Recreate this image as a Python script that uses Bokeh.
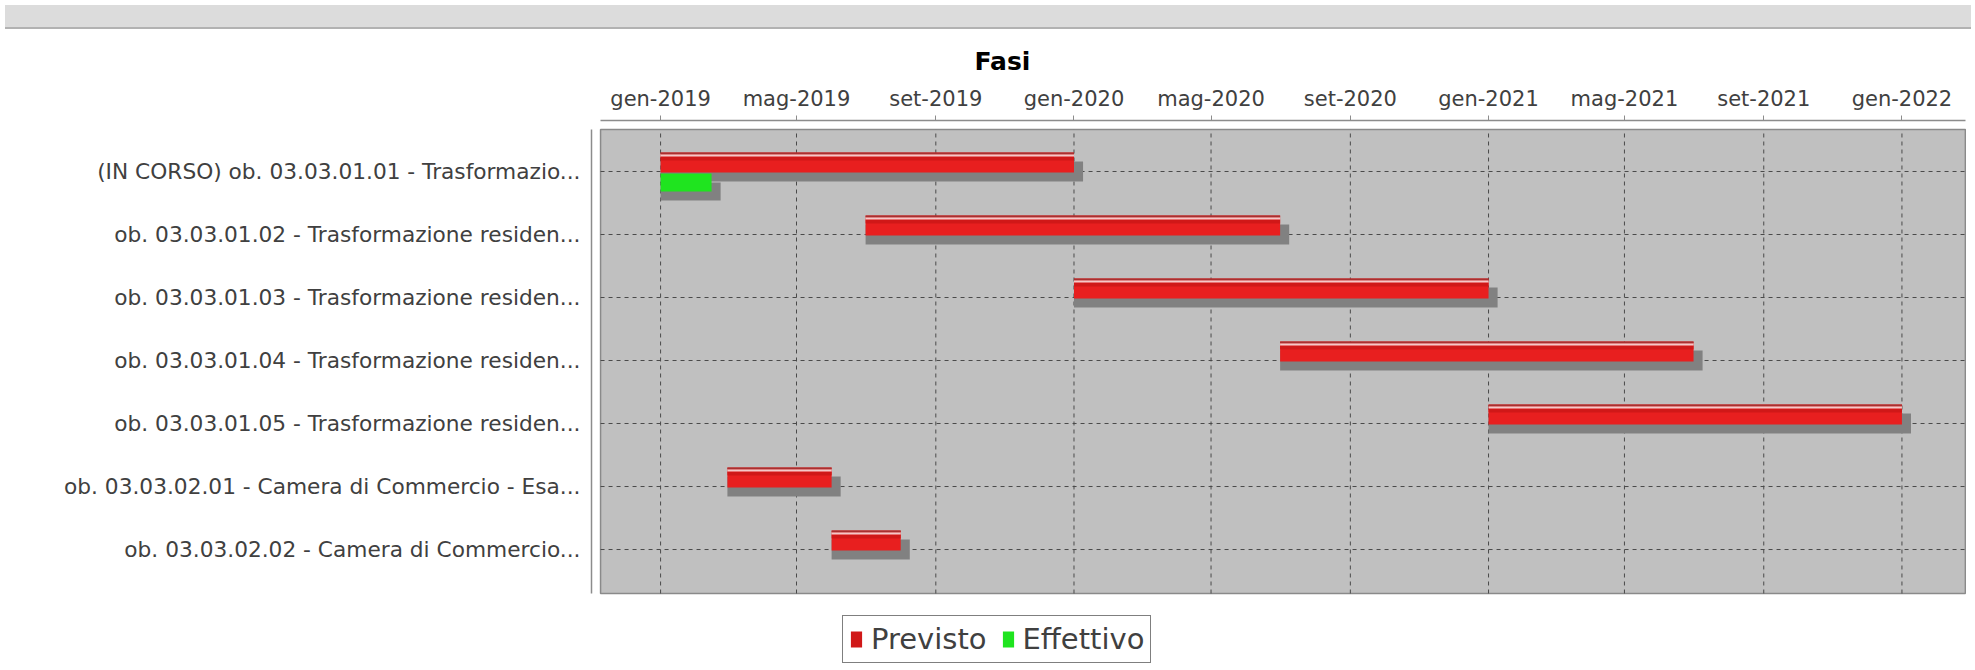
from datetime import datetime, timedelta
import pandas as pd
from bokeh.plotting import figure
from bokeh.models import Range1d, FixedTicker, Legend, LegendItem, Div, ColumnDataSource
from bokeh.layouts import column
from bokeh.embed import file_html
from bokeh.resources import INLINE

# ---------------- data ----------------
categories = [
    "(IN CORSO) ob. 03.03.01.01 - Trasformazio...",
    "ob. 03.03.01.02 - Trasformazione residen...",
    "ob. 03.03.01.03 - Trasformazione residen...",
    "ob. 03.03.01.04 - Trasformazione residen...",
    "ob. 03.03.01.05 - Trasformazione residen...",
    "ob. 03.03.02.01 - Camera di Commercio - Esa...",
    "ob. 03.03.02.02 - Camera di Commercio...",
]
previsto_start = ["2019-01-01", "2019-07-01", "2020-01-01", "2020-07-01",
                  "2021-01-01", "2019-03-01", "2019-06-01"]
previsto_end = ["2020-01-01", "2020-07-01", "2021-01-01", "2021-07-01",
                "2022-01-01", "2019-06-01", "2019-08-01"]
effettivo_task = ["(IN CORSO) ob. 03.03.01.01 - Trasformazio..."]
effettivo_start = ["2019-01-01"]
effettivo_end = ["2019-02-15"]

tick_dates = ["2019-01-01", "2019-05-01", "2019-09-01", "2020-01-01", "2020-05-01",
              "2020-09-01", "2021-01-01", "2021-05-01", "2021-09-01", "2022-01-01"]
tick_labels = ["gen-2019", "mag-2019", "set-2019", "gen-2020", "mag-2020",
               "set-2020", "gen-2021", "mag-2021", "set-2021", "gen-2022"]

series_names = ["Previsto", "Effettivo"]

# ---------------- helpers ----------------
FONT = "DejaVu Sans"
n = len(categories)
ypos = {c: float(n - 1 - i) for i, c in enumerate(categories)}

def to_dt(s):
    return pd.Timestamp(s).to_pydatetime()

def to_ms(s):
    return float((pd.Timestamp(s) - pd.Timestamp("1970-01-01")) // pd.Timedelta(milliseconds=1))

x_start = datetime(2018, 11, 1)
x_end = datetime(2022, 2, 27)
area_left = datetime(2018, 11, 9)
area_right = datetime(2022, 2, 26)
y_bottom, y_top = -1.825, 6.8095
area_bottom, area_top = -0.698, 6.667

unit = 63.0                     # px per category
sh_dx = timedelta(days=8)       # shadow offset (~9px)
sh_dy = 9 / unit

p_y = [ypos[c] for c in categories]
prev = ColumnDataSource(dict(
    left=[to_dt(s) for s in previsto_start],
    right=[to_dt(e) for e in previsto_end],
    top=[y + 19 / unit for y in p_y],
    bottom=[y - 1 / unit for y in p_y],
    line_top=[y + 19 / unit for y in p_y],
    line_bot=[y + 17.3 / unit for y in p_y],
    hl_bot=[y + 15 / unit for y in p_y],
    dk_bot=[y + 11 / unit for y in p_y],
    sh_right=[to_dt(e) + sh_dx for e in previsto_end],
    sh_top=[y + 19 / unit - sh_dy for y in p_y],
    sh_bottom=[y - 1 / unit - sh_dy for y in p_y],
))
e_y = [ypos[c] for c in effettivo_task]
eff = ColumnDataSource(dict(
    left=[to_dt(s) for s in effettivo_start],
    right=[to_dt(e) for e in effettivo_end],
    top=[y - 2 / unit for y in e_y],
    bottom=[y - 20 / unit for y in e_y],
    sh_right=[to_dt(e) + sh_dx for e in effettivo_end],
    sh_top=[y - 2 / unit - sh_dy for y in e_y],
    sh_bottom=[y - 20 / unit - sh_dy for y in e_y],
))

# ---------------- figure ----------------
p = figure(width=1966, height=630, x_axis_type="datetime", x_axis_location="above",
           x_range=Range1d(x_start, x_end), y_range=Range1d(y_bottom, y_top),
           output_backend="svg", toolbar_location=None,
           min_border_left=591, min_border_right=0, min_border_top=86, min_border_bottom=0,
           background_fill_color="white", border_fill_color="white",
           outline_line_color=None)
p.xgrid.visible = False
p.ygrid.visible = False

# plot area
p.quad(left=[area_left], right=[area_right], top=[area_top], bottom=[area_bottom],
       fill_color="#c0c0c0", line_color="#8a8a8a", line_width=1.5)

# grid lines
tdt = [to_dt(t) for t in tick_dates]
p.segment(x0=tdt, x1=tdt, y0=[area_bottom] * len(tdt), y1=[area_top] * len(tdt),
          line_color="#4a4a4a", line_width=1, line_dash="4 4")
cy = [ypos[c] for c in categories]
p.segment(x0=[area_left] * n, x1=[area_right] * n, y0=cy, y1=cy,
          line_color="#4a4a4a", line_width=1, line_dash="4 4")

# shadows
p.quad(left="left", right="sh_right", top="sh_top", bottom="sh_bottom", source=prev,
       fill_color="#818181", line_color=None)
p.quad(left="left", right="sh_right", top="sh_top", bottom="sh_bottom", source=eff,
       fill_color="#818181", line_color=None)

# bars
p.quad(left="left", right="right", top="top", bottom="bottom", source=prev,
       fill_color="#e81f1f", line_color=None)
r_prev = p.quad(left="left", right="right", top="hl_bot", bottom="dk_bot", source=prev,
                fill_color="#d01818", line_color=None)
p.quad(left="left", right="right", top="line_bot", bottom="hl_bot", source=prev,
       fill_color="#f4c8c8", line_color=None)
p.quad(left="left", right="right", top="line_top", bottom="line_bot", source=prev,
       fill_color="#a83030", line_color=None)
r_eff = p.quad(left="left", right="right", top="top", bottom="bottom", source=eff,
               fill_color="#1fe41f", line_color=None)

# axes
xa = p.xaxis[0]
xa.ticker = FixedTicker(ticks=[to_ms(t) for t in tick_dates], minor_ticks=[])
xa.major_label_overrides = {to_ms(t): l for t, l in zip(tick_dates, tick_labels)}
xa.bounds = (area_left, area_right)
xa.axis_line_color = "#8c8c8c"
xa.axis_line_width = 1.5
xa.major_tick_line_color = "#8c8c8c"
xa.major_tick_out = 5
xa.major_tick_in = 0
xa.minor_tick_line_color = None
xa.major_label_standoff = 5
xa.major_label_text_font = FONT
xa.major_label_text_font_size = "21px"
xa.major_label_text_color = "#404040"

ya = p.yaxis[0]
ya.ticker = FixedTicker(ticks=[ypos[c] for c in categories], minor_ticks=[])
ya.major_label_overrides = {ypos[c]: c for c in categories}
ya.bounds = (area_bottom, area_top)
ya.axis_line_color = "#8c8c8c"
ya.axis_line_width = 1.5
ya.major_tick_line_color = None
ya.minor_tick_line_color = None
ya.major_tick_out = 0
ya.major_tick_in = 0
ya.major_label_standoff = 11
ya.major_label_text_font = FONT
ya.major_label_text_font_size = "21.7px"
ya.major_label_text_color = "#404040"

# title
p.title.text = "Fasi"
p.title.align = "left"
p.title.offset = 383
p.title.standoff = 16
p.title.text_font = FONT
p.title.text_font_size = "25px"
p.title.text_font_style = "bold"
p.title.text_color = "black"

# legend (inside the frame, below the plot area)
legend = Legend(items=[LegendItem(label=series_names[0], renderers=[r_prev]),
                       LegendItem(label=series_names[1], renderers=[r_eff])],
                orientation="horizontal", location=(251, 1), margin=0, padding=6,
                spacing=14, label_standoff=8, glyph_width=14, glyph_height=20,
                border_line_color="black", border_line_width=1.5,
                background_fill_color="white", background_fill_alpha=1.0,
                label_text_font=FONT, label_text_font_size="29px",
                label_text_color="#404040")
p.add_layout(legend, "center")

band = Div(text="", width=1966, height=24,
           styles={"background": "linear-gradient(#dcdcdc 0px, #dcdcdc 22px, #b2b2b2 22px, #b2b2b2 24px)"})

layout = column(band, p, spacing=0)
open("out.html", "w").write(file_html(layout, INLINE))
